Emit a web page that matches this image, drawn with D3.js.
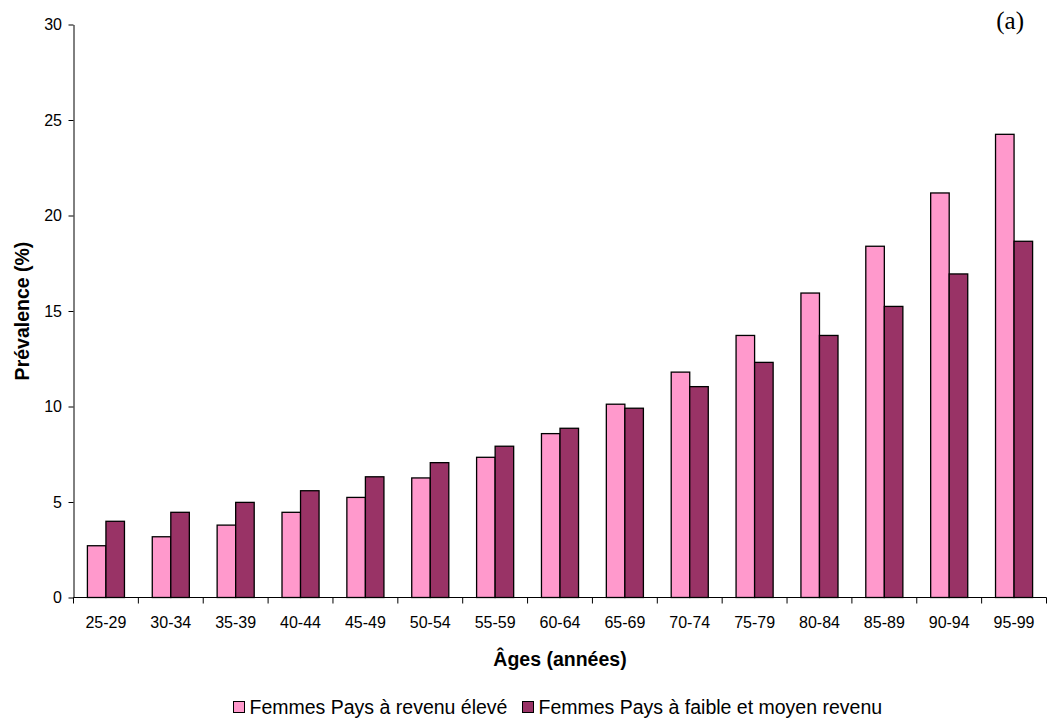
<!DOCTYPE html>
<html><head><meta charset="utf-8">
<script src="https://cdn.jsdelivr.net/npm/d3@7"></script>
<style>body{margin:0;background:#fff}svg{display:block}</style>
</head><body>
<script>
const categories = ["25-29","30-34","35-39","40-44","45-49","50-54","55-59","60-64","65-69","70-74","75-79","80-84","85-89","90-94","95-99"];
const seriesNames = ["Femmes Pays à revenu élevé","Femmes Pays à faible et moyen revenu"];
const highIncome = [2.71,3.18,3.79,4.46,5.24,6.26,7.34,8.58,10.12,11.80,13.72,15.94,18.39,21.18,24.25];
const lowMidIncome = [3.99,4.46,4.98,5.59,6.32,7.06,7.92,8.86,9.91,11.04,12.31,13.72,15.24,16.94,18.65];
const yTicks = [0,5,10,15,20,25,30];
const colors = ["#FF99CC","#993366"];

(function(){
const W=1048,H=720;
const mLeft=73.5, mRight=1046.5, mTop=24.5, mBottom=597.5;
const FONT="Liberation Sans, Arial, sans-serif";
const svg=d3.select("body").append("svg").attr("width",W).attr("height",H);

const x=d3.scaleBand().domain(categories).range([mLeft,mRight]).paddingInner(0).paddingOuter(0);
// Excel gap width 150%: each bar = band/3.5
const bw=x.bandwidth()/3.5;
const xs=d3.scaleBand().domain([0,1]).range([0.75*bw,2.75*bw]);
const y=d3.scaleLinear().domain([0,30]).range([mBottom,mTop]);

const data=categories.map((c,i)=>({c,v:[highIncome[i],lowMidIncome[i]]}));
const g=svg.append("g");
data.forEach(d=>{
  d.v.forEach((v,k)=>{
    g.append("rect").attr("x",x(d.c)+xs(k)).attr("y",y(v)).attr("width",xs.bandwidth()).attr("height",y(0)-y(v))
      .attr("fill",colors[k]).attr("stroke","#000").attr("stroke-width",1.3);
  });
});

// y axis
const yAxis=d3.axisLeft(y).tickValues(yTicks).tickSize(5).tickSizeOuter(0).tickPadding(6.5);
const ya=svg.append("g").attr("transform",`translate(${mLeft},0)`).call(yAxis);
ya.select(".domain").attr("stroke","#000");
ya.selectAll("text").attr("font-family",FONT).attr("font-size",16).attr("fill","#000");

// x axis
const xa=svg.append("g").attr("transform",`translate(0,${mBottom})`);
xa.append("line").attr("x1",mLeft).attr("x2",mRight).attr("stroke","#000");
const bounds=categories.map(c=>x(c)).concat([mRight]);
xa.selectAll("line.t").data(bounds).enter().append("line").attr("class","t")
  .attr("x1",d=>d).attr("x2",d=>d).attr("y1",0).attr("y2",6).attr("stroke","#000");
xa.selectAll("text").data(categories).enter().append("text")
  .attr("x",d=>x(d)+x.bandwidth()/2).attr("y",30.5).attr("text-anchor","middle")
  .attr("font-family",FONT).attr("font-size",16).text(d=>d);

// axis titles
svg.append("text").attr("x",(mLeft+mRight)/2).attr("y",666).attr("text-anchor","middle")
  .attr("font-family",FONT).attr("font-weight","bold").attr("font-size",19.5)
  .text("Âges (années)");
svg.append("text").attr("transform",`translate(28.5,${(mTop+mBottom)/2}) rotate(-90)`).attr("text-anchor","middle")
  .attr("font-family",FONT).attr("font-weight","bold").attr("font-size",19.5)
  .text("Prévalence (%)");

// label (a)
svg.append("text").attr("x",1024).attr("y",28.5).attr("text-anchor","end")
  .attr("font-family","Liberation Serif, Times New Roman, serif").attr("font-size",25).text("(a)");

// legend
const legX=[233,522];
seriesNames.forEach((n,k)=>{
  svg.append("rect").attr("x",legX[k]+0.5).attr("y",701.5).attr("width",11).attr("height",11)
    .attr("fill",colors[k]).attr("stroke","#000").attr("stroke-width",1);
  svg.append("text").attr("x",legX[k]+16.5).attr("y",714).attr("font-family",FONT)
    .attr("font-size",19.5).text(n);
});
})();
</script>
</body></html>
